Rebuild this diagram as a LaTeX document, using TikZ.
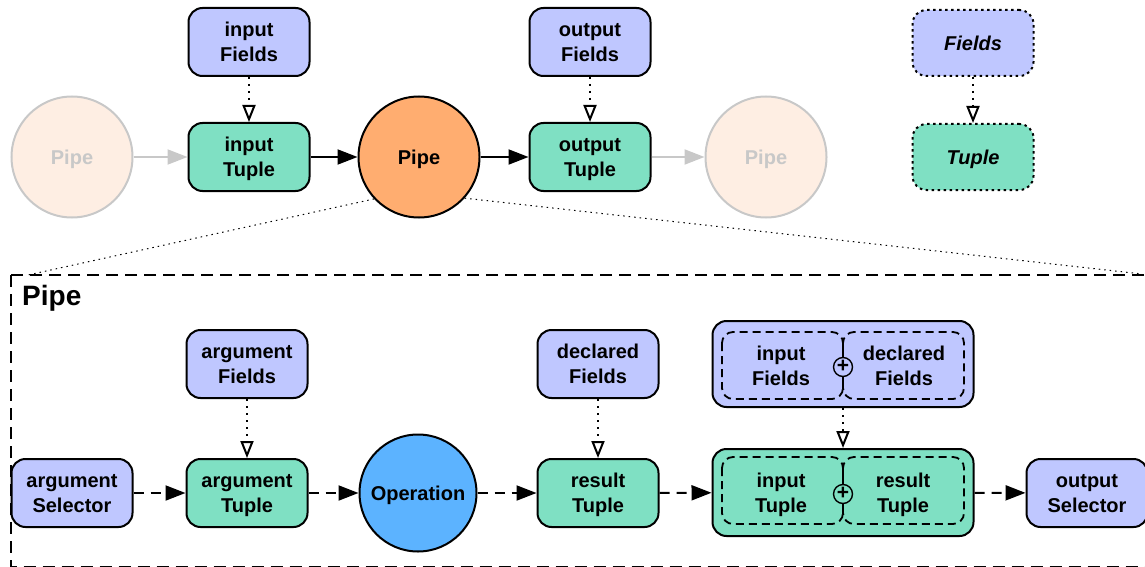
\documentclass[tikz,border=0pt]{standalone}
\usepackage{fontspec}
\setmainfont{Liberation Sans}
\usetikzlibrary{arrows.meta,shapes.geometric}
\definecolor{fieldc}{HTML}{BFC7FF}
\definecolor{tuplec}{HTML}{7FE0C3}
\definecolor{pipec}{HTML}{FFAD70}
\definecolor{opc}{HTML}{5CB3FF}
\definecolor{fadec}{HTML}{FEEEE3}
\definecolor{fadeline}{HTML}{C8C8C8}
\newcommand{\lbl}{\fontsize{20}{25}\selectfont\bfseries}
\tikzset{
  box/.style={draw, line width=2pt, rounded corners=14pt, minimum width=121pt, minimum height=68pt, align=center, font=\lbl, inner sep=0pt, text depth=0pt},
  fieldbox/.style={box, fill=fieldc},
  tuplebox/.style={box, fill=tuplec},
  legendbox/.style={box, dash pattern=on 2.5pt off 3.5pt, line width=2pt, minimum height=66pt},
  pipenode/.style={circle, draw, line width=2pt, minimum size=121pt, inner sep=0pt, font=\lbl, text depth=0pt},
  fadenode/.style={pipenode, draw=fadeline, fill=fadec, text=fadeline},
  solidar/.style={line width=2pt, -{Triangle[length=20pt,width=15pt]}},
  grayar/.style={line width=2pt, draw=fadeline, -{Triangle[length=20pt,width=15pt,fill=fadeline]}},
  dashar/.style={line width=2pt, dash pattern=on 10pt off 7pt, -{Triangle[length=20pt,width=15pt]}},
  dotar/.style={line width=2pt, dash pattern=on 2pt off 5pt, -{Triangle[open,length=17pt,width=13pt,fill=white]}},
  innerdash/.style={line width=1.8pt, dash pattern=on 8pt off 5pt, rounded corners=11pt},
  labeltext/.style={font=\lbl, align=center, text depth=0pt},
  framedash/.style={line width=2pt, dash pattern=on 12pt off 7pt},
  zoomline/.style={line width=1pt, dash pattern=on 1.5pt off 4pt},
  plusnode/.style={circle, draw, line width=1.4pt, minimum size=19pt, inner sep=0pt, font=\fontsize{21}{21}\selectfont\bfseries}
}
\begin{document}
\begin{tikzpicture}[x=1pt,y=-1pt]
\useasboundingbox (0,0) rectangle (1145,567);
% top row
\node[fieldbox] (inF) at (249,42) {input\\Fields};
\node[tuplebox] (inT) at (249,157) {input\\Tuple};
\node[fadenode] (lp) at (72,157) {Pipe};
\node[pipenode, fill=pipec] (p) at (419,157) {Pipe};
\node[fieldbox] (outF) at (590,42) {output\\Fields};
\node[tuplebox] (outT) at (590,157) {output\\Tuple};
\node[fadenode] (rp) at (766,157) {Pipe};
\node[legendbox, fill=fieldc] (lF) at (973,43) {\itshape Fields};
\node[legendbox, fill=tuplec] (lT) at (973,157) {\itshape Tuple};
\draw[grayar] (lp) -- (inT);
\draw[solidar] (inT) -- (p);
\draw[solidar] (p) -- (outT);
\draw[grayar] (outT) -- (rp);
\draw[dotar] (inF) -- (inT);
\draw[dotar] (outF) -- (outT);
\draw[dotar] (lF) -- (lT);
% zoom lines and frame
\coordinate (fl) at (28,275);
\coordinate (fr) at (1142,274);
\draw[zoomline] (p.223) -- (fl);
\draw[zoomline] (p.318) -- (fr);
\draw[framedash] (11,275) rectangle (1160,566.5);
\node[anchor=base west, inner sep=0pt, font=\fontsize{28}{30}\selectfont\bfseries] (title) at (22,305) {Pipe};
% bottom row
\node[fieldbox] (aS) at (72,493) {argument\\Selector};
\node[fieldbox] (aF) at (247,364) {argument\\Fields};
\node[tuplebox] (aT) at (247,493) {argument\\Tuple};
\node[pipenode, fill=opc, minimum size=117pt] (op) at (418,493) {Operation};
\node[fieldbox] (dF) at (598,364) {declared\\Fields};
\node[tuplebox] (rT) at (598,493) {result\\Tuple};
\node[fieldbox] (oS) at (1087,493) {output\\Selector};
% merged fields
\node[box, fill=fieldc, minimum width=261pt, minimum height=86pt] (bF) at (843,364) {};
\draw[innerdash] (722,332) rectangle (843,399);
\draw[innerdash] (843,332) rectangle (964,399);
\node[labeltext] (bFl) at (781,366) {input\\Fields};
\node[labeltext] (bFr) at (904,366) {declared\\Fields};
\node[plusnode, fill=fieldc] (pF) at (843,367) {\raisebox{1pt}{+}};
% merged tuple
\node[box, fill=tuplec, minimum width=261pt, minimum height=87pt] (bT) at (843,492.5) {};
\draw[innerdash] (722,457) rectangle (843,524);
\draw[innerdash] (843,457) rectangle (964,524);
\node[labeltext] (bTl) at (781,493) {input\\Tuple};
\node[labeltext] (bTr) at (903,493) {result\\Tuple};
\node[plusnode, fill=tuplec] (pT) at (843,494) {\raisebox{1pt}{+}};
% connectors
\draw[dashar] (aS) -- (aT);
\draw[dashar] (aT) -- (op);
\draw[dashar] (op) -- (rT);
\draw[dashar] (rT) -- (bT);
\draw[dashar] (bT) -- (oS);
\draw[dotar] (aF) -- (aT);
\draw[dotar] (dF) -- (rT);
\draw[dotar] (bF) -- (bT);
\end{tikzpicture}
\end{document}
